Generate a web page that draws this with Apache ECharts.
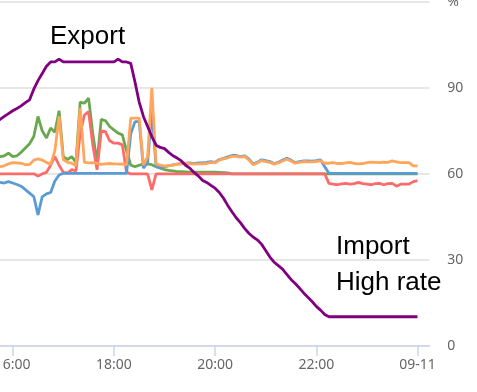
<!DOCTYPE html>
<html><head><meta charset="utf-8">
<script src="https://cdn.jsdelivr.net/npm/echarts@6/dist/echarts.min.js"></script>
<style>html,body{margin:0;padding:0;background:#fff;}#c{width:477px;height:392px;}</style>
</head><body><div id="c"></div>
<script>
// x in hours since 2024-09-10 00:00; samples every 5 minutes from 15:40 to 00:00 (09-11)
const startHour = 15 + 40 / 60;
const stepMinutes = 5;
const sampleCount = 101;
const axisMinHour = 15 + 40 / 60;
const axisMaxHour = 24 + 14 / 60;
const xTickHours = [16, 18, 20, 22, 24];
const xTickLabels = ['16:00', '18:00', '20:00', '22:00', '09-11'];
const yTicks = [0, 30, 60, 90, 120];

const blue = [57,57,56.8,57.3,56.8,56.3,55.7,54.5,53.3,52.1,
  45.7,52,53,53.5,57.5,59.6,60.2,60.2,60.2,60.2,
  60.2,60.2,60.2,60.2,60.2,60.2,60.2,60.2,60.2,60.2,
  60.2,60.2,74,78.2,78.2,62,64,82,62.5,62.2,
  62.5,62.8,63.1,63.4,63.6,63.7,63.8,63.6,63.8,63.8,
  64,64.3,64,65,65.4,65.9,66.4,66.4,66,66.3,
  65.2,63.5,64,64.9,64.6,64.3,63.6,64,64.8,65.4,
  64.8,63.9,64.3,64.5,64.5,64.4,64.6,64.9,62.5,60.2,
  60.2,60.2,60.2,60.2,60.2,60.2,60.2,60.2,60.2,60.2,
  60.2,60.2,60.2,60.2,60.2,60.2,60.2,60.2,60.2,60.2,60.2];

const orange = [62.5,62.5,62.8,63.5,63.9,63.8,63.7,63.2,63.2,64.8,
  65.2,64.8,64,63.3,68,80,65,64,63.7,62.8,
  83,64,63.8,63.9,63.7,63.3,63.5,63.6,63.5,63.4,
  63.5,63.1,79.4,79.4,79.4,63,66,90,63.5,63,
  62.7,62.9,63,63.4,63.5,63.6,63.6,63.4,63.5,63.5,
  63.6,64,63.8,64.8,65.2,65.6,66.1,66.1,65.8,66,
  64.9,63.2,63.8,64.6,64.3,64,63.4,63.8,64.5,65.1,
  64.5,63.7,64,64.3,64.2,64.2,64.3,64.6,63.7,63.7,
  63.9,63.6,63.6,63.8,64,63.6,63.5,63.6,63.9,64.1,
  64,63.9,64.1,64,64.5,64.2,63.9,63.9,63.9,62.8,62.8];

const green = [66,66,66.3,67.2,66,66.3,67.5,69,70.5,73,
  80,75,72.5,76,74.5,82,66,65,66,64,
  85,84.6,86.4,74,64,79,78.5,76.5,75.3,74.2,
  73.6,68,63,62.5,63,63.3,63.5,63.2,62.5,62,
  61.5,61.2,61,60.8,60.8,60.7,60.6,60.6,60.6,60.6,
  60.6,60.6,60.6,60.5,60.4,60.3,60,60,60,60,
  60,60,60,60,60,60,60,60,60,60,
  60,60,60,60,60,60,60,60,60,60,
  60,60,60,60,60,60,60,60,60,60,
  60,60,60,60,60,60,60,60,60,60,60];

const red = [60,60,60,60,60,60,60,60,60,60,
  59.2,60,60.5,63,66,63,60.5,60.3,61.5,61,
  74,80.5,81.7,70,61.4,75,74.7,71.5,70.7,70.7,
  70.1,60.5,60,60,60,60,60,54.4,60,60,
  60,60,60,60,60,60,60,60,60,60,
  60,60,60,60,60,60,60,60,60,60,
  60,60,60,60,60,60,60,60,60,60,
  60,60,60,60,60,60,60,60,60,56.7,
  56.4,56.2,56.5,56.7,56.4,56.6,57,56.6,56.4,56.2,
  56.6,56.7,56.2,56.6,56.7,55.7,56.4,56.4,56.4,57.3,57.6];

const purple = [77.8,79,80,81,82,82.8,83.7,84.8,85.8,89.5,
  92.5,95,97.5,99,99,100,99,99,99,99,
  99,99,99,99,99,99,99,99,99,100,
  99,99,98.5,92,85,80,76.5,73,70,69.2,
  68.8,67.5,66.3,65.5,64.5,63,62,60.5,59.3,57.8,
  57,56,55,53.5,51.5,49,46.8,44.7,43,41,
  39.3,38,37,35.5,33.3,31,29.2,28,26.8,25,
  23.2,21.8,20.2,18.5,17,15.5,13.8,12.5,11,10.2,
  10.2,10.2,10.2,10.2,10.2,10.2,10.2,10.2,10.2,10.2,
  10.2,10.2,10.2,10.2,10.2,10.2,10.2,10.2,10.2,10.2,10.2];

const annotations = ['Export', 'Import', 'High rate'];

const hours = [];
for (let i = 0; i < sampleCount; i++) hours.push(startHour + i * stepMinutes / 60);
const pair = arr => arr.map((v, i) => [hours[i], v]);

const chart = echarts.init(document.getElementById('c'), null, {renderer: 'canvas'});
const mk = (name, data, color) => ({
  name, type: 'line', data: pair(data), showSymbol: false, symbol: 'none',
  lineStyle: {color, width: 2.8}, itemStyle: {color},
  emphasis: {disabled: true}, silent: true
});
chart.setOption({
  animation: false,
  backgroundColor: '#ffffff',
  grid: {left: -4.17, right: 47.7, top: 1.7, bottom: 46, containLabel: false, outerBoundsMode: 'none'},
  xAxis: {
    type: 'value',
    min: axisMinHour,
    max: axisMaxHour,
    axisLine: {lineStyle: {color: '#ccd6eb', width: 1.5}},
    axisTick: {show: true, length: 10, customValues: xTickHours, lineStyle: {color: '#ccd6eb', width: 1.5}},
    splitLine: {show: false},
    axisLabel: {
      color: '#666666', fontSize: 14, fontFamily: 'Noto Sans', margin: 12, hideOverlap: false,
      customValues: xTickHours,
      formatter: function (v) {
        const k = xTickHours.indexOf(Math.round(v * 1000) / 1000);
        return k >= 0 ? xTickLabels[k] : '';
      }
    }
  },
  yAxis: {
    type: 'value', position: 'right',
    min: yTicks[0], max: yTicks[yTicks.length - 1], interval: 30,
    axisLine: {show: false}, axisTick: {show: false},
    splitLine: {lineStyle: {color: '#e6e6e6', width: 2}},
    axisLabel: {color: '#666666', fontSize: 14, fontFamily: 'Noto Sans', margin: 18,
      formatter: v => (v === 120 ? '%' : String(v))}
  },
  series: [
    mk('green', green, '#6aa84f'),
    mk('red', red, '#ff6b6b'),
    mk('blue', blue, '#5b9bd5'),
    mk('orange', orange, '#ffa65c'),
    mk('purple', purple, '#800080')
  ],
  graphic: [
    {type: 'text', left: 50, top: 24, style: {text: annotations[0], font: '26px "Liberation Sans"', fill: '#000'}},
    {type: 'text', left: 336, top: 234, style: {text: annotations[1], font: '26px "Liberation Sans"', fill: '#000'}},
    {type: 'text', left: 336, top: 270, style: {text: annotations[2], font: '26px "Liberation Sans"', fill: '#000'}}
  ]
});
</script>
</body></html>
